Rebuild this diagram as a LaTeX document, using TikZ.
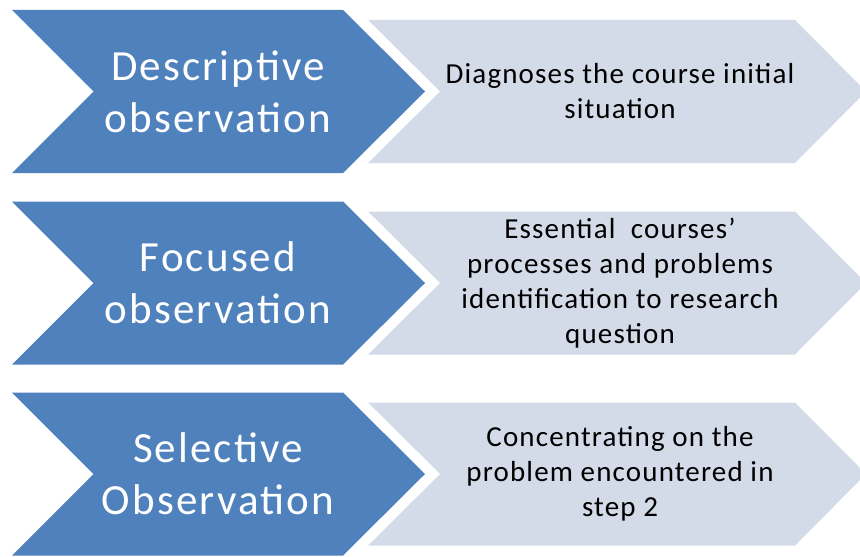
\documentclass[tikz,border=0pt]{standalone}
\usepackage{fontspec}
\setmainfont{Carlito}
\newfontfamily\titlefont[LetterSpace=5]{Carlito}
\newfontfamily\detailfont[LetterSpace=4]{Carlito}
\definecolor{stepblue}{RGB}{79,129,189}
\definecolor{steplight}{RGB}{211,218,232}
\begin{document}
\begin{tikzpicture}[x=0.5pt,y=-0.5pt,
        darkarrow/.style={fill=stepblue,preaction={draw=white,line width=10.5pt,line join=miter}},
        lightarrow/.style={fill=steplight},
        title/.style={text=white,font=\titlefont\fontsize{21.5}{26}\selectfont,align=center,inner sep=0pt},
        detail/.style={text=black,font=\detailfont\fontsize{14.5}{17.5}\selectfont,align=center,inner sep=0pt}]
        \useasboundingbox (0,0) rectangle (860,556);
        % Descriptive observation
        \begin{scope}[shift={(0,91.5)}]
            \fill[lightarrow] (366,-71.5) -- (795,-71.5) -- (866,0) -- (795,71.5) -- (366,71.5) -- cycle;
            \path[darkarrow] (12,-81.5) -- (343,-81.5) -- (425,0) -- (343,81.5) -- (12,81.5) -- (93.5,0) -- cycle;
            \node[title] (obs1) at (218,0) {Descriptive\\observation};
            \node[detail] (aim1) at (620,0) {Diagnoses the course initial\\situation};
        \end{scope}
        % Focused observation
        \begin{scope}[shift={(0,283)}]
            \fill[lightarrow] (366,-71.5) -- (795,-71.5) -- (866,0) -- (795,71.5) -- (366,71.5) -- cycle;
            \path[darkarrow] (12,-81.5) -- (343,-81.5) -- (425,0) -- (343,81.5) -- (12,81.5) -- (93.5,0) -- cycle;
            \node[title] (obs2) at (218,0) {Focused\\observation};
            \node[detail] (aim2) at (620,0) {Essential\ \ courses’\\processes and problems\\identification to research\\question};
        \end{scope}
        % Selective Observation
        \begin{scope}[shift={(0,474)}]
            \fill[lightarrow] (366,-71.5) -- (795,-71.5) -- (866,0) -- (795,71.5) -- (366,71.5) -- cycle;
            \path[darkarrow] (12,-81.5) -- (343,-81.5) -- (425,0) -- (343,81.5) -- (12,81.5) -- (93.5,0) -- cycle;
            \node[title] (obs3) at (218,0) {Selective\\Observation};
            \node[detail] (aim3) at (620,0) {Concentrating on the\\problem encountered in\\step 2};
        \end{scope}
\end{tikzpicture}
\end{document}
